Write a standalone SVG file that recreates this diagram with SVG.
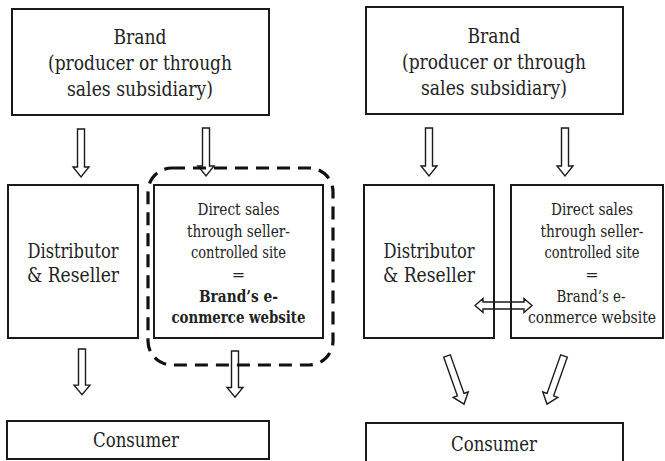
<svg xmlns="http://www.w3.org/2000/svg" width="665" height="461" viewBox="0 0 665 461">
  <style>
    .box { fill: #fff; stroke: #1a1a1a; stroke-width: 2; }
    .frame { fill: none; stroke: #1a1a1a; stroke-width: 2; }
    .arrow { fill: #fff; stroke: #1a1a1a; stroke-width: 1.4; stroke-linejoin: miter; }
    text { font-family: 'DejaVu Serif', 'Liberation Serif', serif; fill: #222; text-anchor: middle; }
    .big { font-size: 20px; }
    .mid { font-size: 19.5px; }
    .small { font-size: 16px; }
    .bold { font-weight: bold; }
    .group-outline { fill: none; stroke: #111; stroke-width: 3.2; stroke-dasharray: 13 8; }
  </style>
  <defs>
    <!-- hollow block arrow pointing down -->
    <path id="down" d="M-3.5,0 H3.5 V38 H8 L0,48 L-8,38 H-3.5 Z"/>
    <path id="down52" d="M-3.5,0 H3.5 V41 H8 L0,51 L-8,41 H-3.5 Z"/>
  </defs>

  <g id="connectors">
    <!-- left panel -->
    <use href="#down" class="arrow" transform="translate(81,129)"/>
    <use href="#down" class="arrow" transform="translate(206,128)"/>
    <use href="#down" class="arrow" transform="translate(82,349) scale(1,0.95)"/>
    <use href="#down" class="arrow" transform="translate(235,351) scale(1,0.96)"/>
    <!-- right panel -->
    <use href="#down" class="arrow" transform="translate(429,128)"/>
    <use href="#down" class="arrow" transform="translate(565,128)"/>
    <use href="#down52" class="arrow" transform="translate(447,356) rotate(-19.5)"/>
    <use href="#down52" class="arrow" transform="translate(564,356) rotate(19.5)"/>
    <!-- two-way link between reseller and own website -->
    <path class="arrow" d="M475,305.5 L483,298.5 V302 H524 V298.5 L532,305.5 L524,312.5 V309 H483 V312.5 Z"/>
  </g>

  <!-- left panel nodes -->
  <g id="brand-left">
    <rect class="box" x="12" y="9" width="257" height="106"/>
    <text class="big" x="140" y="44" textLength="53" lengthAdjust="spacingAndGlyphs">Brand</text>
    <text class="big" x="140" y="70" textLength="184" lengthAdjust="spacingAndGlyphs">(producer or through</text>
    <text class="big" x="140" y="96" textLength="146" lengthAdjust="spacingAndGlyphs">sales subsidiary)</text>
  </g>
  <g id="reseller-left">
    <rect class="frame" x="8" y="185" width="130" height="153"/>
    <text class="mid" x="73" y="258" textLength="91" lengthAdjust="spacingAndGlyphs">Distributor</text>
    <text class="mid" x="73" y="282" textLength="92" lengthAdjust="spacingAndGlyphs">&amp; Reseller</text>
  </g>
  <g id="direct-left">
    <rect class="frame" x="154" y="185" width="169" height="153"/>
    <text class="small" x="238.5" y="215" textLength="82" lengthAdjust="spacingAndGlyphs">Direct sales</text>
    <text class="small" x="238.5" y="237" textLength="103" lengthAdjust="spacingAndGlyphs">through seller-</text>
    <text class="small" x="238.5" y="258" textLength="95" lengthAdjust="spacingAndGlyphs">controlled site</text>
    <text class="small" x="238.5" y="280">=</text>
    <text class="small bold" x="238.5" y="302" textLength="79" lengthAdjust="spacingAndGlyphs">Brand’s e-</text>
    <text class="small bold" x="238.5" y="323" textLength="134" lengthAdjust="spacingAndGlyphs">conmerce website</text>
  </g>
  <g id="own-channel-outline">
    <rect class="group-outline" x="148" y="168" width="185" height="197" rx="24" ry="24"/>
  </g>
  <g id="consumer-left">
    <rect class="box" x="7" y="421" width="262" height="38"/>
    <text class="mid" x="136" y="447" textLength="86" lengthAdjust="spacingAndGlyphs">Consumer</text>
  </g>

  <!-- right panel nodes -->
  <g id="brand-right">
    <rect class="box" x="366" y="7" width="257" height="107"/>
    <text class="big" x="494" y="43" textLength="53" lengthAdjust="spacingAndGlyphs">Brand</text>
    <text class="big" x="494" y="69" textLength="184" lengthAdjust="spacingAndGlyphs">(producer or through</text>
    <text class="big" x="494" y="95" textLength="146" lengthAdjust="spacingAndGlyphs">sales subsidiary)</text>
  </g>
  <g id="reseller-right">
    <rect class="frame" x="364" y="185" width="130" height="153"/>
    <text class="mid" x="429" y="258" textLength="91" lengthAdjust="spacingAndGlyphs">Distributor</text>
    <text class="mid" x="429" y="282" textLength="92" lengthAdjust="spacingAndGlyphs">&amp; Reseller</text>
  </g>
  <g id="direct-right">
    <rect class="frame" x="511" y="185" width="152" height="153"/>
    <text class="small" x="592" y="215" textLength="82" lengthAdjust="spacingAndGlyphs">Direct sales</text>
    <text class="small" x="592" y="237" textLength="103" lengthAdjust="spacingAndGlyphs">through seller-</text>
    <text class="small" x="592" y="258" textLength="95" lengthAdjust="spacingAndGlyphs">controlled site</text>
    <text class="small" x="592" y="280">=</text>
    <text class="small" x="591" y="302" textLength="69" lengthAdjust="spacingAndGlyphs">Brand’s e-</text>
    <text class="small" x="592" y="323" textLength="128" lengthAdjust="spacingAndGlyphs">conmerce website</text>
  </g>
  <g id="consumer-right">
    <rect class="box" x="366" y="423" width="257" height="50"/>
    <text class="mid" x="494" y="451" textLength="86" lengthAdjust="spacingAndGlyphs">Consumer</text>
  </g>
</svg>
